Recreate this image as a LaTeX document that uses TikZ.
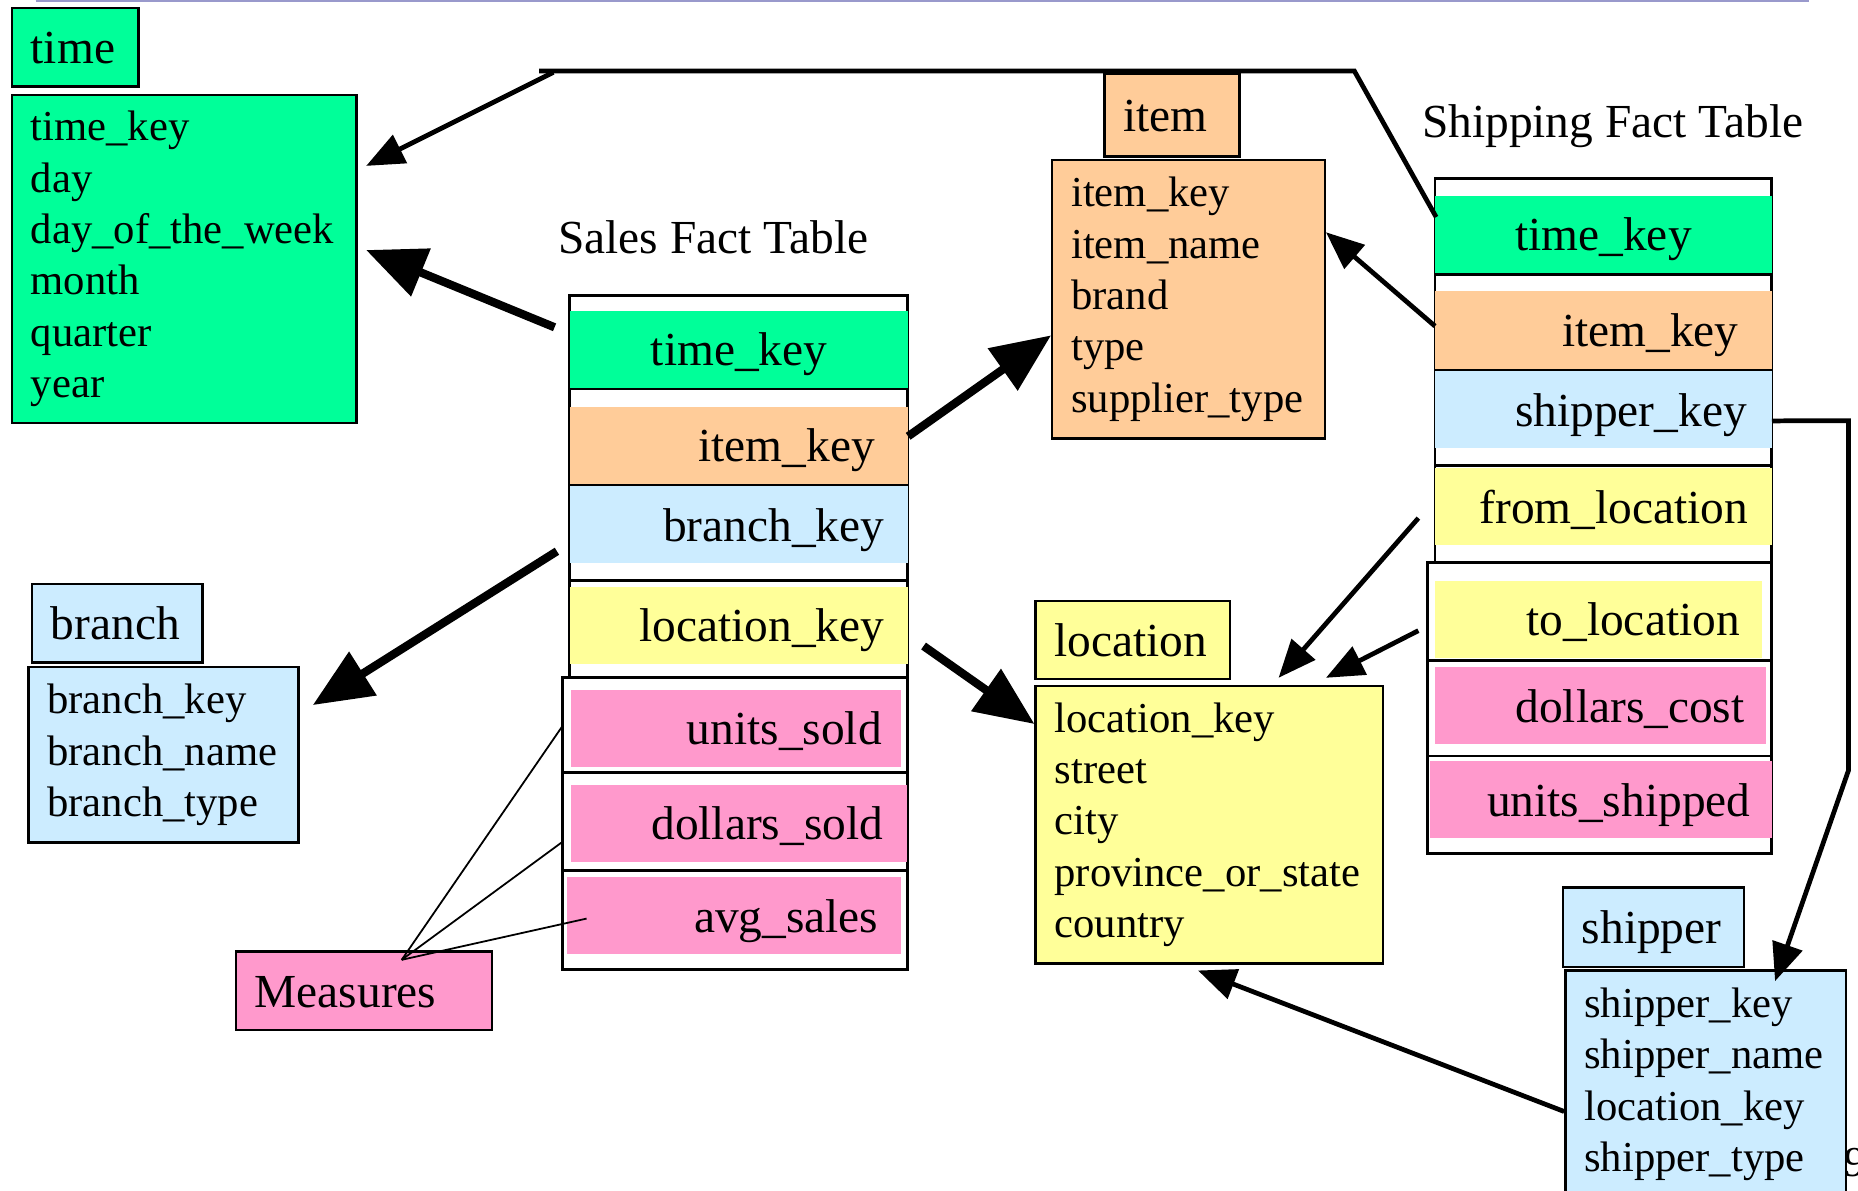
\documentclass[tikz,border=0pt]{standalone}
\usepackage{fontspec}
\setmainfont{Liberation Serif}
\usetikzlibrary{arrows.meta}
\definecolor{cgreen}{HTML}{00FF99}
\definecolor{corange}{HTML}{FFCC99}
\definecolor{cblue}{HTML}{CCECFF}
\definecolor{cyellow}{HTML}{FFFF99}
\definecolor{cpink}{HTML}{FF99CC}
\definecolor{clav}{HTML}{9999CC}
\newcommand\fbig{\fontsize{40}{48}\selectfont}
\newcommand\fbody{\fontsize{36}{43.3}\selectfont}
\begin{document}
\begin{tikzpicture}[x=1pt,y={(0pt,-1pt)},
  hdr/.style={draw=black, line width=2pt, anchor=north west, inner xsep=16pt, inner ysep=0pt, align=left, font=\fbig, text height=30pt, text depth=2pt},
  body/.style={draw=black, line width=2pt, anchor=north west, inner xsep=16pt, inner ysep=0pt, align=left, font=\fbody},
  bar/.style={anchor=north west, inner sep=0pt, minimum height=65pt, draw=none},
  lbl/.style={inner sep=0pt, text height=30pt, text depth=2pt, font=\fbig},
  cell/.style={draw=black, line width=2.5pt, fill=white},
  conn/.style={line width=4pt, -{Triangle[length=32pt,width=26pt]}},
  bigconn/.style={line width=7pt, -{Triangle[length=50pt,width=42pt]}},
  note/.style={line width=1.5pt}]
\useasboundingbox (0,0) rectangle (1568,1005);
\fill[white] (0,0) rectangle (1568,1005);
% top rule
\draw[clav, line width=1.5pt] (30,0.75) -- (1527,0.75);

% ---------- time dimension ----------
\node[hdr, fill=cgreen, text width=75pt, minimum height=66pt] (timeh) at (9,6) {time};
\node[body, fill=cgreen, text width=259pt, minimum height=277pt] (timeb) at (9,79)
  {time\_key\\day\\day\_of\_the\_week\\month\\quarter\\year};

% ---------- item dimension ----------
\node[hdr, fill=corange, text width=82pt, minimum height=70pt] (itemh) at (931,61) {item};
\node[body, fill=corange, text width=198pt, minimum height=235pt] (itemb) at (887,134)
  {item\_key\\item\_name\\brand\\type\\supplier\_type};

% ---------- branch dimension ----------
\node[hdr, fill=cblue, text width=112pt, minimum height=66pt] (branchh) at (26,492) {branch};
\node[body, fill=cblue, text width=196pt, minimum height=148pt] (branchb) at (23,562)
  {branch\_key\\branch\_name\\branch\_type};

% ---------- location dimension ----------
\node[hdr, fill=cyellow, text width=132pt, minimum height=66pt] (loch) at (873,506) {location};
\node[body, fill=cyellow, text width=261pt, minimum height=234pt] (locb) at (873,578)
  {location\_key\\street\\city\\province\_or\_state\\country};

% ---------- shipper dimension ----------
\node[hdr, fill=cblue, text width=121pt, minimum height=67pt] (shiph) at (1318,748) {shipper};
\node[body, fill=cblue, text width=205pt, minimum height=192pt] (shipb) at (1320,818)
  {shipper\_key\\shipper\_name\\location\_key\\shipper\_type};

% ---------- measures ----------
\node[hdr, fill=cpink, text width=184pt, minimum height=66pt] (meas) at (198,802) {Measures};

% ---------- titles ----------
\node[lbl, anchor=west] (salestitle) at (471,200) {Sales Fact Table};
\node[lbl, anchor=west] (shiptitle) at (1200,102) {Shipping Fact Table};

% ---------- sales fact table ----------
\draw[cell] (481,249) rectangle (766,490);
\draw[cell] (481,328) rectangle (766,410);
\draw[cell] (481,490) rectangle (766,572);
\draw[cell] (475,572) rectangle (766,652);
\draw[cell] (475,652) rectangle (766,735);
\draw[cell] (475,735) rectangle (766,818);
\node[bar, fill=cgreen, minimum width=285pt] (s-time) at (481,262) {};
\node[bar, fill=corange, minimum width=285pt] (s-item) at (481,343) {};
\node[bar, fill=cblue, minimum width=285pt] (s-branch) at (481,410) {};
\node[bar, fill=cyellow, minimum width=285pt] (s-loc) at (481,495) {};
\node[bar, fill=cpink, minimum width=278pt] (s-units) at (482,582) {};
\node[bar, fill=cpink, minimum width=283pt] (s-dollars) at (482,662) {};
\node[bar, fill=cpink, minimum width=282pt] (s-avg) at (478,740) {};
\node[lbl] (s-time-t) at (s-time.center) {time\_key};
\node[lbl, anchor=east] (s-item-t) at ([xshift=-28pt]s-item.east) {item\_key};
\node[lbl, anchor=east] (s-branch-t) at ([xshift=-20pt]s-branch.east) {branch\_key};
\node[lbl, anchor=east] (s-loc-t) at ([xshift=-20pt]s-loc.east) {location\_key};
\node[lbl, anchor=east] (s-units-t) at ([xshift=-16pt]s-units.east) {units\_sold};
\node[lbl, anchor=east] (s-dollars-t) at ([xshift=-20pt]s-dollars.east) {dollars\_sold};
\node[lbl, anchor=east] (s-avg-t) at ([xshift=-19pt]s-avg.east) {avg\_sales};

% ---------- shipping fact table ----------
\draw[cell] (1211,151) rectangle (1495,475);
\draw[cell] (1211,232) rectangle (1495,312);
\draw[line width=2.5pt] (1211,393) -- (1495,393);
\draw[cell] (1205,475) rectangle (1495,720);
\draw[line width=2.5pt] (1205,557) -- (1495,557);
\draw[line width=2.5pt] (1205,638) -- (1495,638);
\node[bar, fill=cgreen, minimum width=284pt] (h-time) at (1211,165) {};
\node[bar, fill=corange, minimum width=284pt, minimum height=66pt] (h-item) at (1211,245) {};
\node[bar, fill=cblue, minimum width=284pt] (h-ship) at (1211,313) {};
\node[bar, fill=cyellow, minimum width=284pt] (h-from) at (1211,395) {};
\node[bar, fill=cyellow, minimum width=276pt] (h-to) at (1211,490) {};
\node[bar, fill=cpink, minimum width=279pt] (h-cost) at (1211,563) {};
\node[bar, fill=cpink, minimum width=288pt] (h-units) at (1207,642) {};
\node[lbl] (h-time-t) at (h-time.center) {time\_key};
\node[lbl, anchor=east] (h-item-t) at ([xshift=-28pt]h-item.east) {item\_key};
\node[lbl, anchor=east] (h-ship-t) at ([xshift=-21pt]h-ship.east) {shipper\_key};
\node[lbl, anchor=east] (h-from-t) at ([xshift=-20pt]h-from.east) {from\_location};
\node[lbl, anchor=east] (h-to-t) at ([xshift=-19pt]h-to.east) {to\_location};
\node[lbl, anchor=east] (h-cost-t) at ([xshift=-18pt]h-cost.east) {dollars\_cost};
\node[lbl, anchor=east] (h-units-t) at ([xshift=-18pt]h-units.east) {units\_shipped};

% page number (cut by the page edge)
\node[inner sep=0pt, anchor=west, font=\fbody, text height=26pt, text depth=1pt] (pnum) at (1556,980) {9};

% ---------- connectors ----------
\coordinate (bA) at (1143,60);
\coordinate (bB) at (455,60);
\coordinate (bC) at (467,61);
\coordinate (bD) at (1560,355);
\coordinate (bE) at (1560,650);
\draw[line width=4pt, line join=miter] ([shift={(1,-14.5)}]h-time.west) -- (bA) -- (bB);
\draw[conn] (bC) -- ([shift={(7,-78.5)}]timeb.east);
\draw[bigconn] ([shift={(-13,-18.5)}]s-time.west) -- ([shift={(7,-7.5)}]timeb.east);
\draw[bigconn] ([shift={(0,-7.5)}]s-item.east) -- ([shift={(0,30.5)}]itemb.west);
\draw[conn] ([shift={(0,-3)}]h-item.west) -- ([shift={(0,-56.5)}]itemb.east);
\draw[conn, line join=miter] ([shift={(0,9.5)}]h-ship.east) -- (bD) -- (bE) -- ([shift={(58.5,10)}]shipb.north);
\draw[bigconn] ([shift={(-11,22.5)}]s-branch.west) -- ([shift={(11,-42)}]branchb.east);
\draw[bigconn] ([shift={(13,17.5)}]s-loc.east) -- ([shift={(0,-85)}]locb.west);
\draw[conn] ([shift={(-14,9.5)}]h-from.west) -- ([shift={(58.5,-6)}]locb.north);
\draw[conn] ([shift={(-14,9.5)}]h-to.west) -- ([shift={(98.5,-6)}]locb.north);
\draw[conn] ([shift={(0,23)}]shipb.west) -- ([shift={(-9.5,5)}]locb.south);

% measures pointers
\draw[note] ([shift={(32,8)}]meas.north) -- ([shift={(-7,-2.5)}]s-units.west);
\draw[note] ([shift={(32,8)}]meas.north) -- ([shift={(-7,15.5)}]s-dollars.west);
\draw[note] ([shift={(32,8)}]meas.north) -- ([shift={(17,2.5)}]s-avg.west);
\end{tikzpicture}
\end{document}
